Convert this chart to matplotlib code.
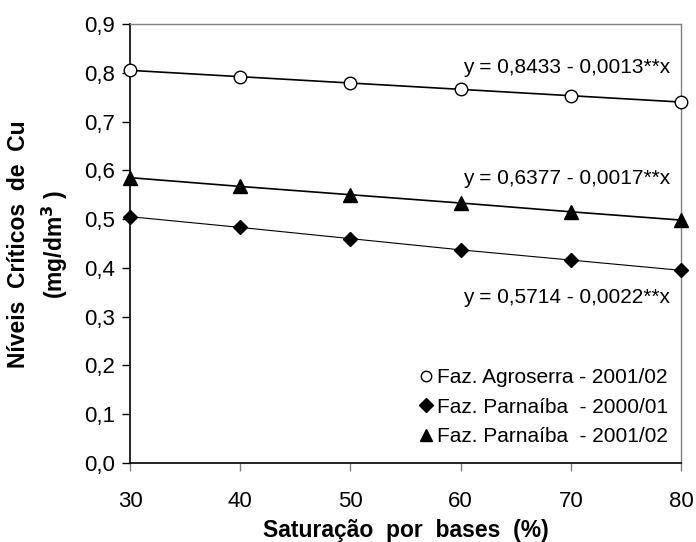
import numpy as np
import matplotlib.pyplot as plt
from matplotlib.lines import Line2D

plt.rcParams['font.family'] = ['Liberation Sans', 'DejaVu Sans']

# ---------------------------------------------------------------------------
# DATA
# ---------------------------------------------------------------------------
saturacao = [30, 40, 50, 60, 70, 80]

agroserra_0102 = [0.805, 0.792, 0.779, 0.766, 0.753, 0.740]
parnaiba_0001 = [0.505, 0.483, 0.460, 0.437, 0.416, 0.395]
parnaiba_0102 = [0.585, 0.567, 0.550, 0.533, 0.515, 0.498]

equations = ["y = 0,8433 - 0,0013**x",
             "y = 0,6377 - 0,0017**x",
             "y = 0,5714 - 0,0022**x"]
legend_labels = ["Faz. Agroserra - 2001/02",
                 "Faz. Parnaíba  - 2000/01",
                 "Faz. Parnaíba  - 2001/02"]

# ---------------------------------------------------------------------------
# PLOT
# ---------------------------------------------------------------------------
fig = plt.figure(figsize=(6.96, 5.42), dpi=100)
ax = fig.add_axes([130 / 696, 1 - 463 / 542, 551 / 696, 439 / 542])

ax.plot(saturacao, agroserra_0102, "-", color="k", lw=1.2, marker="o",
        ms=9, mfc="white", mec="k", mew=1.0, clip_on=False, zorder=3)
ax.plot(saturacao, parnaiba_0001, "-", color="k", lw=0.8, marker="D",
        ms=7.5, mfc="k", mec="k", clip_on=False, zorder=3)
ax.plot(saturacao, parnaiba_0102, "-", color="k", lw=1.2, marker="^",
        ms=10, mfc="k", mec="k", clip_on=False, zorder=3)

ax.set_xlim(30, 80)
ax.set_ylim(0, 0.9)
ax.set_xticks(np.arange(30, 81, 10))
ax.set_yticks(np.arange(0, 0.91, 0.1))
ax.set_yticklabels([f"{v:.1f}".replace(".", ",") for v in np.arange(0, 0.91, 0.1)])

ax.tick_params(axis="both", labelsize=16, direction="out", length=6, width=1)
ax.tick_params(axis="x", colors="#808080", labelcolor="k", pad=14)
ax.tick_params(axis="y", pad=5)

for side in ["top", "right"]:
    ax.spines[side].set_color("#808080")
    ax.spines[side].set_linewidth(1.0)
for side in ["left", "bottom"]:
    ax.spines[side].set_color("k")
    ax.spines[side].set_linewidth(1.2)

# regression equations
ax.text(0.98, 0.902, equations[0], transform=ax.transAxes, ha="right",
        va="center", fontsize=15)
ax.text(0.98, 0.649, equations[1], transform=ax.transAxes, ha="right",
        va="center", fontsize=15)
ax.text(0.98, 0.378, equations[2], transform=ax.transAxes, ha="right",
        va="center", fontsize=15)

handles = [
    Line2D([], [], ls="none", marker="o", ms=7.5, mfc="white", mec="k"),
    Line2D([], [], ls="none", marker="D", ms=7, mfc="k", mec="k"),
    Line2D([], [], ls="none", marker="^", ms=9, mfc="k", mec="k"),
]
ax.legend(handles, legend_labels, loc="lower right", bbox_to_anchor=(1.0, 0.01),
          frameon=False, fontsize=15, handlelength=0.6, handletextpad=0.25,
          labelspacing=0.5, borderaxespad=0.2)

ax.set_xlabel("Saturação  por  bases  (%)", fontsize=16.5, fontweight="bold",
              labelpad=5)
fig.text(19 / 696, 1 - 244 / 542, "Níveis  Críticos  de  Cu", rotation=90,
         ha="center", va="center", fontsize=16.5, fontweight="bold")
fig.text(55 / 696, 1 - 244 / 542, "(mg/dm$^\\mathbf{3}$ )", rotation=90,
         ha="center", va="center", fontsize=16.5, fontweight="bold")

fig.savefig("out.png", dpi=100)
